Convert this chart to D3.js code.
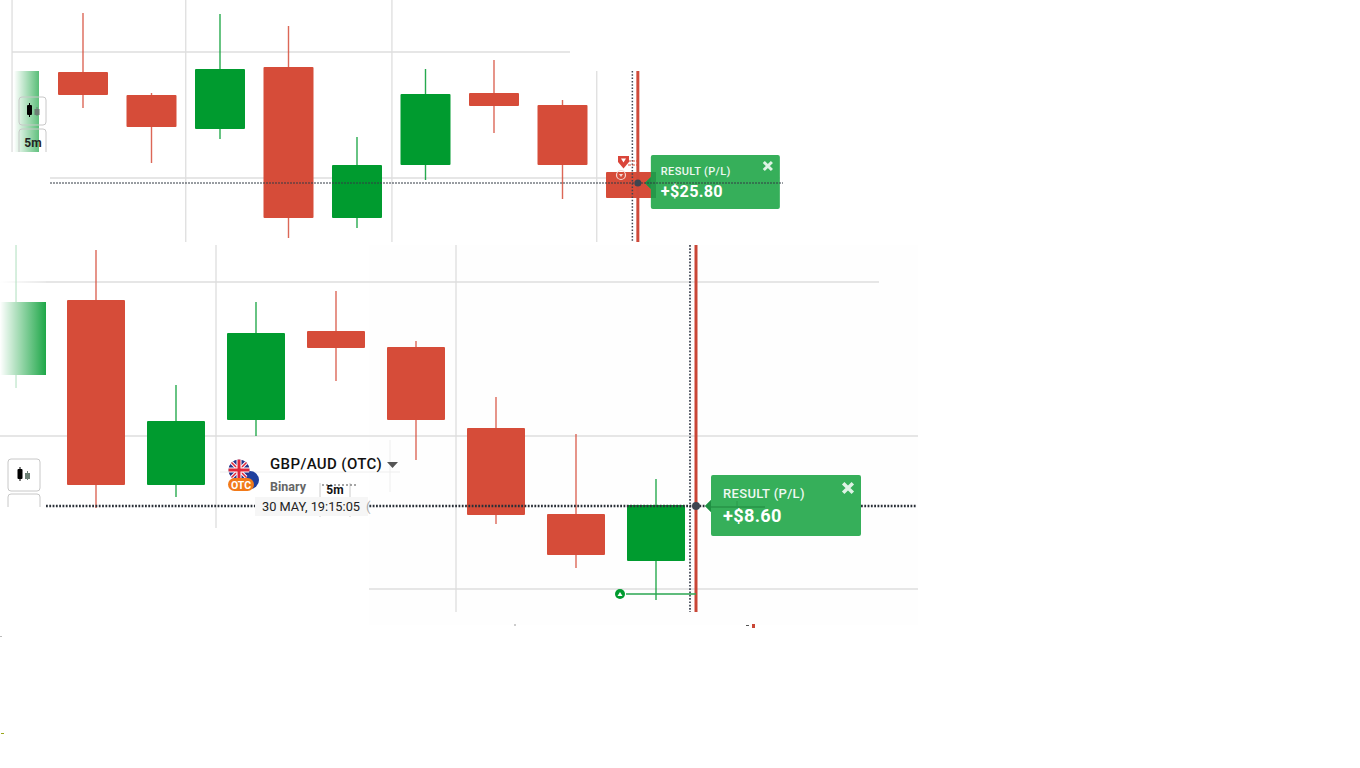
<!DOCTYPE html>
<html>
<head>
<meta charset="utf-8">
<script src="https://cdnjs.cloudflare.com/ajax/libs/d3/7.8.5/d3.min.js"></script>
<style>
html, body { margin: 0; padding: 0; background: #fff; overflow: hidden; }
svg { display: block; }
text { font-family: Roboto, sans-serif; }
</style>
</head>
<body>
<svg id="chart" width="1360" height="768"></svg>
<script>
// candles as index, open, high, low, close (chart units)
const topCandles = [
  { i: 0, o: 85, h: 114.5, l: 67, c: 73.5 },
  { i: 1, o: 73.5, h: 74.5, l: 39.5, c: 57.5 },
  { i: 2, o: 56.5, h: 114, l: 51.5, c: 86.5 },
  { i: 3, o: 87.5, h: 108, l: 2, c: 12 },
  { i: 4, o: 12, h: 52.5, l: 7, c: 38.5 },
  { i: 5, o: 38.5, h: 86.5, l: 31, c: 74 },
  { i: 6, o: 74.5, h: 91, l: 54.5, c: 68 },
  { i: 7, o: 68.5, h: 71, l: 21.5, c: 38.5 },
  { i: 8, o: 35, h: 35, l: 22, c: 22 }
];
const bottomCandles = [
  { i: 1, o: 156, h: 181, l: 52, c: 63.5 },
  { i: 2, o: 63.5, h: 113.5, l: 57.5, c: 95.5 },
  { i: 3, o: 96, h: 155, l: 88, c: 139.5 },
  { i: 4, o: 140.5, h: 160.5, l: 115.5, c: 132 },
  { i: 5, o: 132.5, h: 135.5, l: 76, c: 96 },
  { i: 6, o: 92, h: 107.5, l: 44, c: 48.5 },
  { i: 7, o: 49, h: 89, l: 22, c: 28.5 },
  { i: 8, o: 25.5, h: 66.5, l: 6, c: 53.5 }
];
const topFaded = { i: -1, o: 45, c: 85.5 };
const bottomFaded = { i: 0, o: 118.5, h: 183.5, l: 112, c: 155 };

const topGridY = [
  { v: 95, x1: 12, x2: 570 },
  { v: 32, x1: 50, x2: 780 }
];
const topGridX = [
  { i: -1.036, y1: 0, y2: 152 },
  { i: 1.5, y1: 0, y2: 242 },
  { i: 4.51, y1: 0, y2: 242 },
  { i: 7.5, y1: 71, y2: 242 }
];
const bottomGridY = [
  { v: 165, x1: 0, x2: 879 },
  { v: 88, x1: 0, x2: 918 },
  { v: 11.5, x1: 369, x2: 918 }
];
const bottomGridX = [
  { i: 2.5, y1: 245, y2: 528 },
  { i: 5.5, y1: 245, y2: 612 }
];

const topResult = "+$25.80";
const bottomResult = "+$8.60";
const resultTitle = "RESULT (P/L)";
const pairName = "GBP/AUD (OTC)";
const pairType = "Binary";
const timeframe = "5m";
const clockText = "30 MAY, 19:15:05";

const RED = "#d64c39";
const GREEN = "#009b2f";
const CARD = "#36af5a";
const GRID = "#dedede";
const DARK = "#3f4550";

const svg = d3.select("#chart");
const defs = svg.append("defs");

// white veil that fades the oldest candle in each panel
function veil(id, opLeft, opRight) {
  const g = defs.append("linearGradient").attr("id", id);
  g.append("stop").attr("offset", "0%").attr("stop-color", "#fff").attr("stop-opacity", opLeft);
  g.append("stop").attr("offset", "100%").attr("stop-color", "#fff").attr("stop-opacity", opRight);
}
veil("veilTop", 1, 0.35);
veil("veilBottom", 1, 0.12);

const xTop = d3.scaleLinear().domain([0, 8]).range([83, 631]);
const yTop = d3.scaleLinear().domain([0, 121]).range([242, 0]);
const xBottom = d3.scaleLinear().domain([0, 8]).range([16, 656]);
const yBottom = d3.scaleLinear().domain([0, 183.5]).range([612, 245]);

function drawGrid(g, x, y, gridX, gridY) {
  g.selectAll(".gy").data(gridY).enter().append("line")
    .attr("x1", d => d.x1).attr("x2", d => d.x2)
    .attr("y1", d => y(d.v)).attr("y2", d => y(d.v))
    .attr("stroke", GRID).attr("stroke-width", 1.3);
  g.selectAll(".gx").data(gridX).enter().append("line")
    .attr("x1", d => x(d.i)).attr("x2", d => x(d.i))
    .attr("y1", d => d.y1).attr("y2", d => d.y2)
    .attr("stroke", GRID).attr("stroke-width", 1.3);
}

function drawCandles(g, data, x, y, w) {
  const color = d => (d.c < d.o ? RED : GREEN);
  g.selectAll(".wick").data(data).enter().append("line")
    .attr("x1", d => x(d.i)).attr("x2", d => x(d.i))
    .attr("y1", d => y(d.h)).attr("y2", d => y(d.l))
    .attr("stroke", color).attr("stroke-opacity", 0.85).attr("stroke-width", 1.4);
  g.selectAll(".body").data(data).enter().append("rect")
    .attr("x", d => x(d.i) - w / 2).attr("width", w)
    .attr("y", d => y(Math.max(d.o, d.c)))
    .attr("height", d => Math.abs(y(d.o) - y(d.c)))
    .attr("rx", 1)
    .attr("fill", color);
}

function drawCard(g, cx, py, b) {
  g.append("path")
    .attr("d", `M${cx + b.dx},${py - b.top + 2}a2,2 0 0 1 2,-2H${cx + b.dx + b.w - 2}a2,2 0 0 1 2,2V${py - b.top + b.h - 2}a2,2 0 0 1 -2,2H${cx + b.dx + 2}a2,2 0 0 1 -2,-2V${py + 6}l-6,-6l6,-6Z`)
    .attr("fill", CARD);
  // the pointer reads darker than the card
  g.append("path")
    .attr("d", `M${cx + b.dx},${py + 6}l-6,-6l6,-6Z`)
    .attr("fill", "#1f8f42");
  g.append("text").attr("x", cx + b.dx + b.pad).attr("y", py - b.top + b.ty1)
    .attr("font-size", b.fs1).attr("font-weight", 500).attr("fill", "#eef8f1")
    .attr("letter-spacing", 0.35).text(resultTitle);
  g.append("text").attr("x", cx + b.dx + b.pad).attr("y", py - b.top + b.ty2)
    .attr("font-size", b.fs2).attr("font-weight", 700).attr("fill", "#fff")
    .attr("letter-spacing", 0.3).text(b.label);
  const cxx = cx + b.dx + b.w - b.close, cy = py - b.top + b.closeY, r = b.fs1 * 0.37;
  g.append("path")
    .attr("d", `M${cxx - r},${cy - r}L${cxx + r},${cy + r}M${cxx - r},${cy + r}L${cxx + r},${cy - r}`)
    .attr("stroke", "#dff3e5").attr("stroke-width", b.fs1 * 0.27);
}

function drawButton(g, x, y, w, h) {
  g.append("rect").attr("x", x).attr("y", y).attr("width", w).attr("height", h)
    .attr("rx", 3).attr("fill", "#fff").attr("fill-opacity", 0.05)
    .attr("stroke", "#c8c8c8").attr("stroke-width", 1);
}

function candleGlyph(g, x, y) {
  g.append("line").attr("x1", x).attr("x2", x).attr("y1", y - 7).attr("y2", y + 7).attr("stroke", "#000");
  g.append("rect").attr("x", x - 2.5).attr("y", y - 5).attr("width", 5).attr("height", 10).attr("rx", 1).attr("fill", "#000");
  g.append("line").attr("x1", x + 7.5).attr("x2", x + 7.5).attr("y1", y - 3).attr("y2", y + 6).attr("stroke", "#6b7f74");
  g.append("rect").attr("x", x + 5).attr("y", y - 1).attr("width", 5).attr("height", 6).attr("fill", "#6b7f74");
}

// ---- top panel
const topPanel = svg.append("g");
drawGrid(topPanel, xTop, yTop, topGridX, topGridY);
topPanel.append("rect")
  .attr("x", 14).attr("width", 25).attr("y", yTop(topFaded.c))
  .attr("height", yTop(topFaded.o) - yTop(topFaded.c)).attr("fill", GREEN);
topPanel.append("rect").attr("x", 14).attr("width", 25).attr("y", 65).attr("height", 95).attr("fill", "url(#veilTop)");
drawCandles(topPanel, topCandles, xTop, yTop, 50);

const topPrice = 29.5, topExpiry = 8.1;
topPanel.append("line").attr("x1", xTop(8.02)).attr("x2", xTop(8.02)).attr("y1", 71).attr("y2", 242)
  .attr("stroke", DARK).attr("stroke-width", 1.5).attr("stroke-dasharray", "1.5 1.8");
topPanel.append("line").attr("x1", xTop(topExpiry)).attr("x2", xTop(topExpiry)).attr("y1", 71).attr("y2", 242)
  .attr("stroke", "#cf4a3a").attr("stroke-width", 3);
topPanel.append("line").attr("x1", 628).attr("x2", 640).attr("y1", 161).attr("y2", 161).attr("stroke", RED).attr("stroke-dasharray", "3 1");
topPanel.append("line").attr("x1", 628).attr("x2", 640).attr("y1", 165).attr("y2", 165).attr("stroke", RED).attr("stroke-dasharray", "3 1");
// red flag of the lost trade
topPanel.append("path").attr("d", "M618,156h11v6l-5.5,6.5l-5.5,-6.5Z").attr("fill", "#d9453a");
topPanel.append("path").attr("d", "M621,158.5h5l-2.5,4Z").attr("fill", "#fff");
topPanel.append("circle").attr("cx", 621).attr("cy", 175).attr("r", 4.5).attr("fill", "none").attr("stroke", "#f4d8d3").attr("stroke-width", 1.2);
topPanel.append("path").attr("d", "M619,174h4l-2,3Z").attr("fill", "#f4d8d3");

drawCard(topPanel, xTop(topExpiry), yTop(topPrice), {
  dx: 13, top: 28, w: 129, h: 54, pad: 10, ty1: 20, ty2: 42, fs1: 11, fs2: 16.2,
  close: 12, closeY: 11, label: topResult
});
// part of the red candle shows through the card
topPanel.append("rect").attr("x", 651).attr("y", yTop(35)).attr("width", 5).attr("height", yTop(22) - yTop(35)).attr("fill", "#1f8f42").attr("fill-opacity", 0.7);
topPanel.append("line").attr("x1", 50).attr("x2", 783).attr("y1", yTop(topPrice)).attr("y2", yTop(topPrice))
  .attr("stroke", "#333a44").attr("stroke-width", 1).attr("stroke-dasharray", "2 1");
topPanel.append("circle").attr("cx", xTop(topExpiry)).attr("cy", yTop(topPrice)).attr("r", 3.5).attr("fill", DARK);

drawButton(topPanel, 19, 97, 27, 28);
candleGlyph(topPanel, 29.5, 110);
drawButton(topPanel, 19, 129, 27, 30);
topPanel.append("text").attr("x", 33).attr("y", 147).attr("text-anchor", "middle")
  .attr("font-size", 12).attr("font-weight", 700).attr("fill", "#222").text(timeframe);
topPanel.append("rect").attr("x", 0).attr("y", 152).attr("width", 50).attr("height", 90).attr("fill", "#fff");

// ---- bottom panel
const bottomPanel = svg.append("g");
bottomPanel.append("rect").attr("x", 369).attr("y", 245).attr("width", 549).attr("height", 380).attr("fill", "#fefefe");
drawGrid(bottomPanel, xBottom, yBottom, bottomGridX, bottomGridY);

// oldest candle is only partly shown, the rest sits under the veil
bottomPanel.append("line").attr("x1", xBottom(0)).attr("x2", xBottom(0))
  .attr("y1", yBottom(bottomFaded.h)).attr("y2", yBottom(bottomFaded.l))
  .attr("stroke", GREEN).attr("stroke-opacity", 0.8).attr("stroke-width", 1.3);
bottomPanel.append("rect").attr("x", 0).attr("width", 46).attr("y", yBottom(bottomFaded.c))
  .attr("height", yBottom(bottomFaded.o) - yBottom(bottomFaded.c)).attr("fill", GREEN);
bottomPanel.append("rect").attr("x", 0).attr("width", 46).attr("y", 245).attr("height", 145).attr("fill", "url(#veilBottom)");
drawCandles(bottomPanel, bottomCandles, xBottom, yBottom, 58);

const bottomPrice = 53, bottomExpiry = 8.5, orderLevel = 9;
bottomPanel.append("line").attr("x1", xBottom(8.425)).attr("x2", xBottom(8.425)).attr("y1", 245).attr("y2", 612)
  .attr("stroke", "#555b66").attr("stroke-width", 2).attr("stroke-dasharray", "1.7 1.6");
bottomPanel.append("line").attr("x1", xBottom(bottomExpiry)).attr("x2", xBottom(bottomExpiry)).attr("y1", 245).attr("y2", 612)
  .attr("stroke", "#c94636").attr("stroke-width", 3);

bottomPanel.append("line").attr("x1", 626).attr("x2", xBottom(bottomExpiry)).attr("y1", yBottom(orderLevel)).attr("y2", yBottom(orderLevel))
  .attr("stroke", "#2aa650").attr("stroke-width", 1.5);
bottomPanel.append("circle").attr("cx", 620).attr("cy", yBottom(orderLevel)).attr("r", 5).attr("fill", GREEN);
bottomPanel.append("path").attr("d", "M617.5,596h5l-2.5,-4Z").attr("fill", "#fff");

// pair header
bottomPanel.append("line").attr("x1", 220).attr("x2", 400).attr("y1", 472).attr("y2", 472).attr("stroke", "#eee");
bottomPanel.append("line").attr("x1", 390).attr("x2", 390).attr("y1", 440).attr("y2", 492).attr("stroke", "#eee");
bottomPanel.append("circle").attr("cx", 250).attr("cy", 480).attr("r", 9).attr("fill", "#1f3f9e");
bottomPanel.append("circle").attr("cx", 239).attr("cy", 470).attr("r", 10.5).attr("fill", "#26348c");
const ukClip = defs.append("clipPath").attr("id", "uk");
ukClip.append("circle").attr("cx", 239).attr("cy", 470).attr("r", 10.5);
const uk = bottomPanel.append("g").attr("clip-path", "url(#uk)");
uk.append("path").attr("d", "M229,460L249,480M249,460L229,480").attr("stroke", "#fff").attr("stroke-width", 3.5);
uk.append("path").attr("d", "M229,460L249,480M249,460L229,480").attr("stroke", "#e0263a").attr("stroke-width", 1.5);
uk.append("path").attr("d", "M239,459V481M228,470H250").attr("stroke", "#fff").attr("stroke-width", 5);
uk.append("path").attr("d", "M239,459V481M228,470H250").attr("stroke", "#e0263a").attr("stroke-width", 3);
bottomPanel.append("rect").attr("x", 228).attr("y", 478).attr("width", 26).attr("height", 13).attr("rx", 6.5).attr("fill", "#f27a1a");
bottomPanel.append("text").attr("x", 241).attr("y", 488.5).attr("text-anchor", "middle")
  .attr("font-size", 10.5).attr("font-weight", 700).attr("fill", "#fff").text("OTC");
bottomPanel.append("text").attr("x", 270).attr("y", 469).attr("font-size", 15).attr("font-weight", 500)
  .attr("letter-spacing", 0.38).attr("fill", "#111").text(pairName);
bottomPanel.append("path").attr("d", "M387,462h11l-5.5,6Z").attr("fill", "#555");
bottomPanel.append("text").attr("x", 270).attr("y", 491).attr("font-size", 12.5).attr("font-weight", 700).attr("fill", "#666").text(pairType);
bottomPanel.append("line").attr("x1", 320).attr("x2", 320).attr("y1", 483).attr("y2", 517).attr("stroke", "#ccc");
bottomPanel.append("line").attr("x1", 350).attr("x2", 350).attr("y1", 483).attr("y2", 517).attr("stroke", "#ccc");
bottomPanel.append("line").attr("x1", 322).attr("x2", 356).attr("y1", 485).attr("y2", 485).attr("stroke", "#888").attr("stroke-width", 1.5).attr("stroke-dasharray", "2 2");
bottomPanel.append("text").attr("x", 335).attr("y", 494).attr("text-anchor", "middle")
  .attr("font-size", 12).attr("font-weight", 700).attr("fill", "#111").text(timeframe);

drawCard(bottomPanel, xBottom(bottomExpiry), yBottom(bottomPrice), {
  dx: 15, top: 31, w: 150, h: 61, pad: 12, ty1: 23, ty2: 47, fs1: 13, fs2: 18.2,
  close: 13, closeY: 13, label: bottomResult
});
// price line, only a hint of it where it crosses the card
bottomPanel.append("line").attr("x1", 46).attr("x2", 705).attr("y1", yBottom(bottomPrice)).attr("y2", yBottom(bottomPrice))
  .attr("stroke", "#2a3038").attr("stroke-width", 2.4).attr("stroke-dasharray", "1.8 1.5");
bottomPanel.append("line").attr("x1", 861).attr("x2", 916).attr("y1", yBottom(bottomPrice)).attr("y2", yBottom(bottomPrice))
  .attr("stroke", "#2a3038").attr("stroke-width", 2.4).attr("stroke-dasharray", "1.8 1.5");
bottomPanel.append("line").attr("x1", 711).attr("x2", 765).attr("y1", yBottom(bottomPrice) + 1).attr("y2", yBottom(bottomPrice) + 1)
  .attr("stroke", "#2a9a4b").attr("stroke-width", 2);
bottomPanel.append("line").attr("x1", 737).attr("x2", 737).attr("y1", 501).attr("y2", 506).attr("stroke", "#2a9a4b");
bottomPanel.append("circle").attr("cx", xBottom(bottomExpiry)).attr("cy", yBottom(bottomPrice)).attr("r", 4).attr("fill", DARK);

// clock on the price line
bottomPanel.append("rect").attr("x", 255).attr("y", 497).attr("width", 113).attr("height", 19).attr("fill", "#f6f6f6");
bottomPanel.append("text").attr("x", 262).attr("y", 511).attr("font-size", 12.8).attr("fill", "#222").text(clockText);
bottomPanel.append("text").attr("x", 366).attr("y", 511).attr("font-size", 13).attr("fill", "#aaa").text("(");

// left tool buttons, cut off by the white strip
drawButton(bottomPanel, 8, 459, 32, 32);
candleGlyph(bottomPanel, 20, 474);
drawButton(bottomPanel, 8, 494, 32, 20);
bottomPanel.append("rect").attr("x", 0).attr("y", 507).attr("width", 46).attr("height", 110).attr("fill", "#fff");

// small leftovers along the seams
const seam = svg.append("g");
seam.append("rect").attr("x", 752).attr("y", 624).attr("width", 3).attr("height", 4).attr("fill", "#c94636");
seam.append("rect").attr("x", 746).attr("y", 625).attr("width", 3).attr("height", 1).attr("fill", "#555");
seam.append("rect").attr("x", 514).attr("y", 624).attr("width", 2).attr("height", 2).attr("fill", "#ccc");
seam.append("rect").attr("x", 1).attr("y", 733).attr("width", 3).attr("height", 1).attr("fill", "#9aa61a");
seam.append("rect").attr("x", 0).attr("y", 636).attr("width", 2).attr("height", 1).attr("fill", "#bbb");
</script>
</body>
</html>
